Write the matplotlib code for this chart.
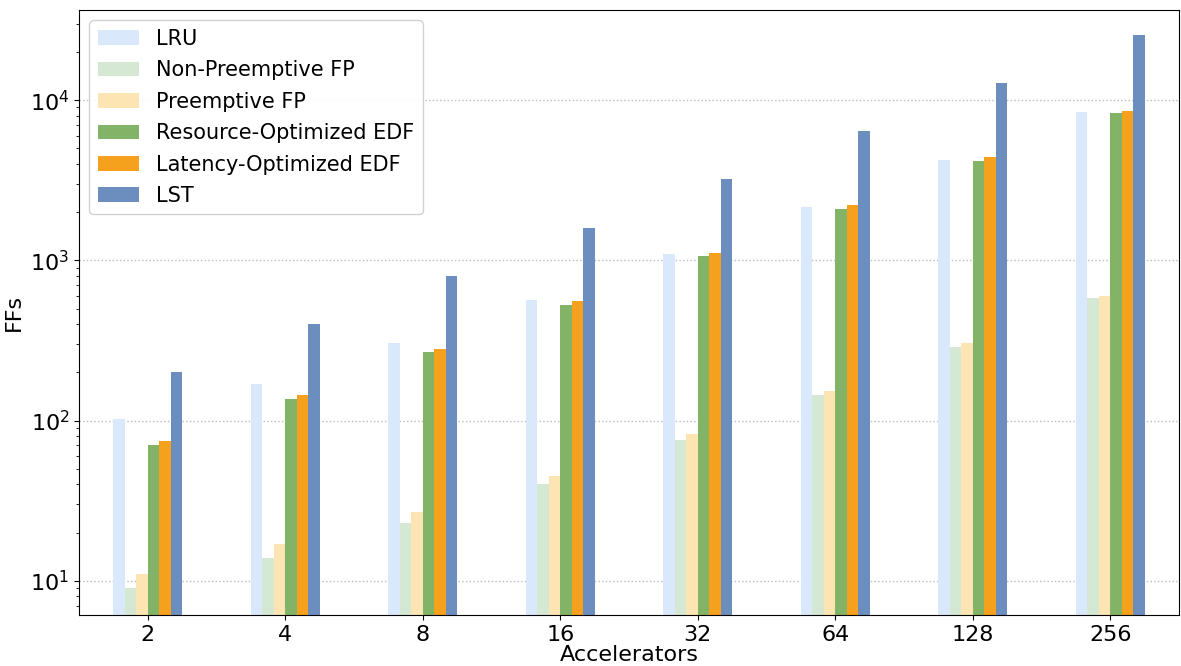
import matplotlib
matplotlib.use("Agg")
import matplotlib.pyplot as plt
import numpy as np

categories = ["2", "4", "8", "16", "32", "64", "128", "256"]
series_names = ["LRU", "Non-Preemptive FP", "Preemptive FP",
                "Resource-Optimized EDF", "Latency-Optimized EDF", "LST"]
lru = [103, 170, 307, 570, 1090, 2140, 4220, 8400]
non_preemptive_fp = [9, 14, 23, 40, 76, 145, 290, 580]
preemptive_fp = [11, 17, 27, 45, 82, 154, 307, 596]
resource_edf = [71, 137, 270, 530, 1060, 2080, 4200, 8300]
latency_edf = [75, 145, 282, 555, 1107, 2210, 4400, 8500]
lst = [200, 400, 800, 1600, 3200, 6400, 12800, 25600]
colors = ["#dae8fc", "#d5e8d4", "#fde4b3", "#82b366", "#f5a11e", "#6c8ebf"]

data = [lru, non_preemptive_fp, preemptive_fp, resource_edf, latency_edf, lst]

fig = plt.figure(figsize=(11.81, 6.66), dpi=100)
ax = fig.add_axes([79/1181, 1 - 615/666, (1179-79)/1181, (615-10)/666])

x = np.arange(len(categories))
n = len(data)
w = 0.5 / n
for i, (vals, name, c) in enumerate(zip(data, series_names, colors)):
    ax.bar(x + (i - (n - 1) / 2) * w, vals, width=w, color=c, label=name, zorder=2)

ax.set_yscale("log")
ax.set_ylim(6.13, 36500)
ax.set_xlim(-0.5, 7.5)
ax.set_xticks(x)
ax.set_xticklabels(categories)
ax.tick_params(axis="both", labelsize=16)
ax.set_xlabel("Accelerators", fontsize=16, labelpad=0)
ax.set_ylabel("FFs", fontsize=16)
ax.yaxis.grid(True, which="major", linestyle=":", color="#bbbbbb", linewidth=1, zorder=0)
ax.set_axisbelow(True)
ax.legend(loc="upper left", fontsize=15, handlelength=2.0, handleheight=0.7,
          labelspacing=0.55, borderpad=0.4, framealpha=0.9)

fig.savefig("out.png", dpi=100)
